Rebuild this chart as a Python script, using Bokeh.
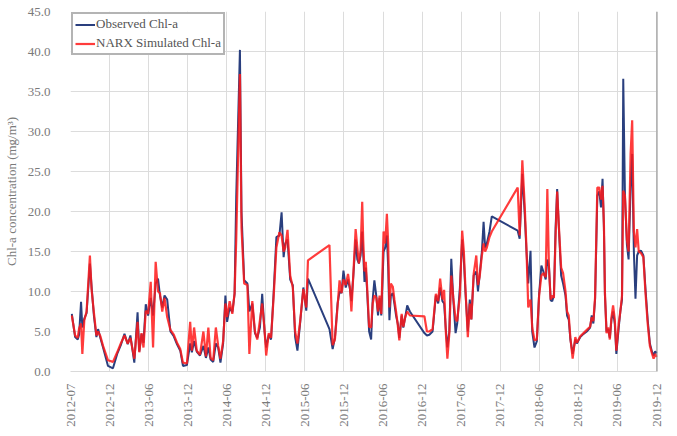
from bokeh.plotting import figure
from bokeh.models import FixedTicker, Span, Legend, LegendItem, ColumnDataSource
from bokeh.embed import file_html
from bokeh.resources import INLINE

# time in months since 2012-07
t = [0.20, 0.71, 1.11, 1.32, 1.62, 1.82, 2.12, 2.47, 2.98, 3.23, 3.59, 3.98, 4.24, 4.59, 5.00,
     5.76, 6.52, 7.17, 7.77, 8.29, 8.79, 9.20, 9.80, 10.30, 10.56, 10.91, 11.21, 11.56, 11.92,
     12.32, 12.68, 13.08, 13.44, 13.74, 14.09, 14.44, 14.85, 15.35, 15.86, 16.36, 16.86, 17.27,
     17.88, 18.38, 18.64, 18.98, 19.39, 19.89, 20.41, 20.80, 21.17, 21.52, 21.92, 22.32, 22.68,
     23.03, 23.44, 23.79, 24.05, 24.44, 24.85, 25.20, 25.45, 26.02, 26.26, 26.67, 27.17, 27.47,
     27.92, 28.33, 28.68, 29.09, 29.44, 29.80, 30.05, 30.45, 30.80, 31.21, 31.62, 32.08, 32.42,
     32.73, 32.98, 33.33, 33.74, 34.14, 34.50, 34.85, 35.26, 35.76, 36.21, 36.47, 39.77, 40.26,
     40.61, 41.02, 41.32, 41.62, 41.92, 42.27, 42.62, 42.92, 43.14, 43.44, 43.79, 44.05, 44.29,
     44.55, 44.80, 44.95, 45.15, 45.35, 45.56, 45.86, 46.17, 46.41, 46.67, 46.97, 47.23, 47.47,
     47.73, 48.08, 48.33, 48.59, 48.79, 48.98, 49.20, 49.50, 49.74, 50.00, 50.26, 50.50, 50.86,
     51.11, 51.41, 51.71, 52.12, 54.35, 54.74, 55.11, 55.61, 56.11, 56.47, 56.77, 57.12, 57.38,
     57.62, 57.88, 58.18, 58.48, 58.79, 59.14, 59.39, 59.80, 60.15, 60.41, 60.65, 61.02, 61.32,
     61.56, 61.92, 62.32, 62.58, 62.83, 63.18, 63.44, 63.68, 63.94, 64.35, 64.70, 68.68, 68.98,
     69.39, 69.74, 70.00, 70.30, 70.65, 70.91, 71.26, 71.62, 71.97, 72.32, 72.62, 72.98, 73.23,
     73.48, 73.74, 73.98, 74.24, 74.50, 74.74, 75.00, 75.35, 75.65, 76.02, 76.26, 76.52, 76.77,
     77.12, 77.53, 77.77, 78.29, 78.79, 79.29, 79.80, 80.05, 80.30, 80.56, 80.91, 81.21, 81.47,
     81.71, 81.92, 82.08, 82.32, 82.58, 82.83, 83.08, 83.33, 83.59, 83.83, 84.20, 84.44, 84.70,
     84.89, 85.15, 85.45, 85.71, 86.02, 86.26, 86.52, 86.77, 87.02, 87.27, 87.62, 87.98, 88.29,
     88.64, 88.98, 89.29, 89.55, 89.80, 90.05]

observed = [7.2, 4.3, 4.0, 4.6, 8.7, 5.5, 6.6, 7.3, 13.5, 10.7, 7.0, 4.3, 5.3, 4.2, 3.0,
            0.7, 0.4, 2.2, 3.4, 4.7, 3.4, 4.5, 1.1, 7.4, 2.5, 4.7, 3.6, 8.4, 7.0,
            9.2, 7.0, 11.0, 11.6, 9.5, 8.0, 9.5, 9.0, 5.0, 4.4, 3.4, 2.6, 0.7,
            0.8, 3.5, 2.4, 3.8, 2.5, 2.0, 3.2, 1.7, 3.0, 1.5, 1.2, 3.5, 3.0,
            1.1, 3.5, 9.5, 6.2, 8.0, 7.4, 9.7, 21.8, 40.2, 20.0, 11.4, 11.0, 7.5,
            8.5, 4.8, 4.2, 5.5, 9.7, 5.0, 3.0, 4.6, 4.0, 10.0, 16.8, 17.0, 19.9,
            14.3, 16.0, 16.5, 11.5, 10.8, 4.3, 2.6, 6.0, 10.5, 7.6, 11.6, 5.3, 2.8,
            4.2, 8.5, 10.0, 9.8, 12.6, 10.5, 11.5, 10.3, 8.8, 12.0, 16.5, 14.0, 13.5,
            14.5, 17.5, 14.8, 11.2, 13.0, 10.0, 5.0, 4.0, 9.0, 11.4, 9.4, 7.0, 9.2,
            7.0, 15.0, 15.5, 17.0, 13.0, 6.4, 9.5, 9.8, 8.5, 7.0, 6.0, 4.2, 7.0,
            5.5, 6.8, 8.25, 7.5, 4.8, 4.5, 4.6, 5.0, 9.5, 8.5, 10.5, 8.8, 8.5,
            5.5, 3.0, 5.0, 14.1, 9.0, 4.8, 6.0, 10.5, 16.5, 14.0, 10.0, 5.0, 9.0,
            6.5, 12.0, 12.5, 10.0, 12.0, 15.0, 18.7, 15.5, 16.0, 17.5, 19.4, 17.6, 16.6,
            24.7, 20.0, 15.5, 11.0, 15.1, 5.0, 3.0, 3.8, 9.7, 13.25, 12.5, 11.5, 14.0,
            13.2, 8.9, 8.8, 9.5, 18.0, 22.8, 18.0, 12.0, 11.0, 9.5, 7.0, 6.5, 4.0,
            2.2, 4.0, 3.5, 4.3, 4.7, 5.0, 5.5, 7.0, 6.0, 9.0, 22.0, 22.5, 20.5,
            24.1, 18.0, 9.5, 5.0, 5.3, 4.2, 6.5, 7.5, 6.0, 2.2, 5.5, 7.5, 9.0,
            36.6, 22.0, 15.9, 14.0, 23.0, 27.2, 15.0, 9.1, 14.5, 15.0, 15.1, 14.5, 10.5,
            6.5, 3.5, 2.5, 2.0, 2.5, 2.3]

simulated = [7.0, 4.5, 4.2, 5.4, 6.0, 2.2, 6.4, 7.5, 14.5, 10.3, 7.4, 4.5, 5.0, 4.4, 3.2,
             1.4, 1.2, 2.4, 3.6, 4.5, 3.5, 4.2, 1.6, 6.2, 2.4, 4.8, 3.0, 7.6, 7.2,
             11.2, 3.0, 13.7, 10.0, 9.8, 7.5, 9.2, 6.8, 5.2, 4.6, 3.6, 2.8, 1.1,
             1.0, 6.2, 2.6, 5.5, 2.6, 2.1, 5.0, 1.9, 5.5, 1.7, 1.4, 5.5, 3.2,
             1.6, 3.8, 8.5, 6.8, 8.8, 7.2, 9.8, 16.4, 37.2, 18.0, 11.0, 10.8, 2.2,
             8.8, 5.0, 4.0, 6.4, 8.5, 5.2, 2.0, 4.8, 4.2, 9.5, 15.5, 17.4, 17.0,
             15.0, 15.5, 17.7, 12.0, 10.5, 5.0, 3.5, 6.2, 10.3, 8.0, 13.9, 15.8, 3.3,
             4.0, 8.2, 11.4, 9.8, 11.5, 10.8, 12.2, 10.5, 7.5, 12.2, 17.8, 15.5, 13.5,
             15.1, 21.2, 16.5, 12.5, 13.7, 10.5, 5.6, 5.5, 8.5, 9.5, 9.2, 7.5, 9.5,
             7.2, 17.5, 16.0, 19.7, 16.0, 8.0, 11.0, 10.6, 9.0, 7.5, 5.8, 3.9, 7.2,
             5.6, 6.8, 7.5, 7.0, 6.9, 5.0, 5.0, 5.3, 9.7, 8.8, 11.6, 9.0, 10.2,
             5.3, 1.6, 4.8, 12.0, 9.2, 6.5, 6.3, 9.5, 17.6, 15.0, 10.5, 4.3, 8.5,
             6.5, 12.2, 14.5, 10.8, 11.8, 14.5, 16.0, 15.0, 15.5, 16.8, 17.5, 23.0, 17.0,
             26.4, 21.0, 16.0, 8.0, 9.0, 5.5, 3.9, 4.0, 9.5, 12.0, 12.3, 11.8, 22.8,
             13.0, 9.0, 9.5, 9.2, 17.0, 22.5, 18.2, 13.0, 12.3, 10.0, 7.5, 7.0, 4.2,
             1.6, 4.3, 3.6, 4.4, 4.8, 5.2, 5.6, 6.8, 6.3, 9.2, 23.0, 23.0, 21.5,
             23.2, 18.5, 9.8, 4.8, 5.5, 4.0, 6.8, 8.25, 6.5, 2.6, 6.0, 7.5, 9.5,
             22.6, 22.0, 16.5, 15.0, 27.2, 31.4, 17.5, 15.5, 17.8, 15.0, 14.8, 14.3, 10.0,
             6.0, 3.2, 2.3, 1.6, 2.2, 1.8]

tick_pos = [0, 6, 12, 18, 24, 30, 36, 42, 48, 54, 60, 66, 72, 78, 84, 90]
tick_labels = ["2012-07", "2012-12", "2013-06", "2013-12", "2014-06", "2014-12", "2015-06",
               "2015-12", "2016-06", "2016-12", "2017-06", "2017-12", "2018-06", "2018-12",
               "2019-06", "2019-12"]
y_ticks = [0, 5, 10, 15, 20, 25, 30, 35, 40, 45]
y_labels = ["0.0", "5.0", "10.0", "15.0", "20.0", "25.0", "30.0", "35.0", "40.0", "45.0"]

FONT = "Liberation Serif"
GRAY = "#7a7a7a"

p = figure(width=677, height=436, output_backend="svg", toolbar_location=None,
           x_range=(0, 90.15), y_range=(0, 45),
           min_border_left=62, min_border_right=20, min_border_top=11, min_border_bottom=65)
p.background_fill_color = "white"
p.border_fill_color = "white"
p.outline_line_color = None

src = ColumnDataSource(dict(t=t, obs=observed, sim=simulated))
r_obs = p.line("t", "obs", source=src, line_color="#2a3f7e", line_width=2)
r_sim = p.line("t", "sim", source=src, line_color="#ff1a1a", line_width=2.2, line_alpha=0.85)

p.xaxis.ticker = FixedTicker(ticks=tick_pos)
p.xaxis.major_label_overrides = {tp: lab for tp, lab in zip(tick_pos, tick_labels)}
p.xaxis.major_label_orientation = 3.14159265 / 2
p.yaxis.ticker = FixedTicker(ticks=y_ticks)
p.yaxis.major_label_overrides = {tp: lab for tp, lab in zip(y_ticks, y_labels)}

for ax in (p.xaxis[0], p.yaxis[0]):
    ax.major_label_text_font = FONT
    ax.major_label_text_font_size = "13px"
    ax.major_label_text_color = GRAY
    ax.major_tick_line_color = None
    ax.minor_tick_line_color = None
    ax.axis_label_text_font = FONT
    ax.axis_label_text_font_style = "normal"
    ax.axis_label_text_color = GRAY
    ax.axis_label_text_font_size = "13px"

p.xaxis.axis_line_color = "#d9d9d9"
p.yaxis.axis_line_color = None
p.xaxis.major_label_standoff = 6
p.yaxis.major_label_standoff = 14
p.yaxis.axis_label = "Chl-a concentration (mg/m³)"
p.yaxis.axis_label_standoff = 6

p.xgrid.ticker = FixedTicker(ticks=tick_pos)
p.ygrid.ticker = FixedTicker(ticks=y_ticks)
p.xgrid.grid_line_color = "#dcdcdc"
p.ygrid.grid_line_color = "#dcdcdc"

p.add_layout(Span(location=90.15, dimension="height", line_color="#8c8c8c", line_width=2))

legend = Legend(items=[LegendItem(label="Observed Chl-a", renderers=[r_obs]),
                       LegendItem(label="NARX Simulated Chl-a", renderers=[r_sim])],
                location="top_left")
legend.margin = 1
legend.padding = 2
legend.spacing = 3
legend.label_height = 15
legend.glyph_height = 15
legend.glyph_width = 20
legend.label_standoff = 1
legend.label_text_font = FONT
legend.label_text_font_size = "13px"
legend.label_text_color = "#555555"
legend.border_line_color = "#6a6a6a"
legend.border_line_width = 2
legend.background_fill_alpha = 1
p.add_layout(legend)

open("out.html", "w").write(file_html(p, INLINE))
